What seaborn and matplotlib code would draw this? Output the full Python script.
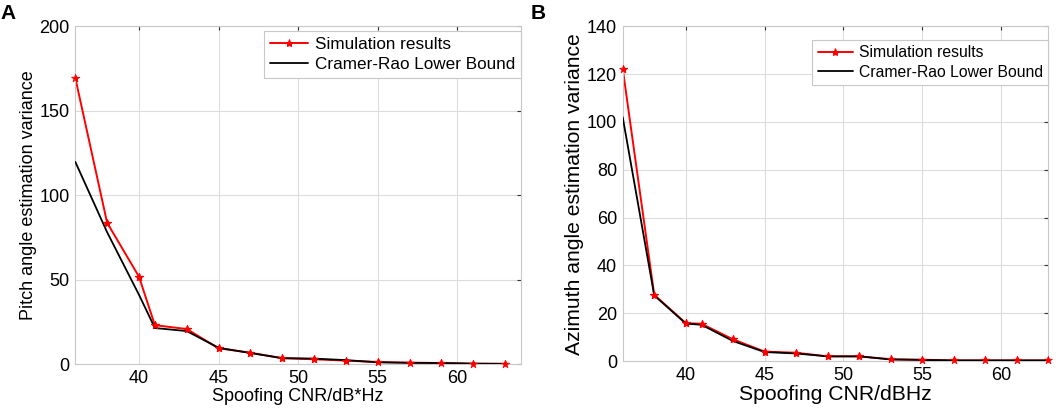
import matplotlib
matplotlib.use("Agg")
import matplotlib.pyplot as plt
import seaborn as sns
import pandas as pd

# Spoofing CNR values (dB-Hz)
cnr = [36, 38, 40, 41, 43, 45, 47, 49, 51, 53, 55, 57, 59, 61, 63]

# Panel A: pitch angle
pitch_sim = [169.4, 83.6, 51.7, 23.0, 20.7, 9.3, 6.7, 3.4, 2.8, 2.0, 1.2, 0.8, 0.6, 0.2, 0.1]
pitch_crlb = [119.7, 78.0, 41.0, 21.3, 19.5, 9.6, 6.5, 3.5, 3.2, 2.3, 1.0, 0.7, 0.6, 0.2, 0.1]

# Panel B: azimuth angle
azim_sim = [122.3, 27.7, 15.9, 15.6, 9.1, 4.0, 3.5, 2.0, 2.0, 0.8, 0.6, 0.3, 0.3, 0.3, 0.3]
azim_crlb = [102.0, 27.5, 15.7, 15.2, 8.4, 3.8, 3.2, 2.0, 2.0, 0.7, 0.5, 0.3, 0.3, 0.3, 0.3]

sns.set_style("whitegrid")
plt.rcParams['font.family'] = ['Liberation Sans', 'DejaVu Sans']
plt.rcParams['text.color'] = 'black'
plt.rcParams['axes.labelcolor'] = 'black'
plt.rcParams['xtick.color'] = 'black'
plt.rcParams['ytick.color'] = 'black'

fig = plt.figure(figsize=(10.59, 4.09), dpi=100)
ax_a = fig.add_axes([0.0711, 0.110, 0.4209, 0.826])
ax_b = fig.add_axes([0.588, 0.117, 0.402, 0.819])


def draw_panel(ax, sim, crlb, xlim, ylim, yticks, xlabel, ylabel, lab_size, tick_size, leg_size, leg_anchor):
    df = pd.DataFrame({"cnr": cnr, "sim": sim, "crlb": crlb})
    sns.lineplot(data=df, x="cnr", y="sim", ax=ax, color="#ff0000", lw=1.4,
                 marker="*", markersize=6, markeredgecolor="#ff0000",
                 label="Simulation results", zorder=2)
    sns.lineplot(data=df, x="cnr", y="crlb", ax=ax, color="black", lw=1.3,
                 label="Cramer-Rao Lower Bound", zorder=3)
    # markers back on top of the black curve
    sns.scatterplot(data=df, x="cnr", y="sim", ax=ax, color="#ff0000", marker="*",
                    s=36, edgecolor="#ff0000", linewidth=0.5, zorder=4, clip_on=False)
    ax.set_xlim(*xlim)
    ax.set_ylim(*ylim)
    ax.set_xticks([40, 45, 50, 55, 60])
    ax.set_yticks(yticks)
    ax.set_xlabel(xlabel, fontsize=lab_size, labelpad=1)
    ax.set_ylabel(ylabel, fontsize=lab_size, labelpad=2)
    ax.grid(True, color="#dcdcdc", lw=0.8)
    ax.tick_params(axis="both", which="both", direction="in", length=3, color="#333333",
                   labelcolor="black", labelsize=tick_size, top=True, right=True, pad=4)
    for s in ax.spines.values():
        s.set_color("#c8c8c8")
        s.set_linewidth(0.8)
    leg = ax.legend(loc="upper right", bbox_to_anchor=leg_anchor, fontsize=leg_size,
                    frameon=True, fancybox=False, framealpha=1, edgecolor="#c8c8c8",
                    handlelength=2.2, handletextpad=0.4, borderpad=0.35, labelspacing=0.3,
                    borderaxespad=0)
    leg.get_frame().set_linewidth(0.8)
    leg.set_zorder(5)
    for t in leg.get_texts():
        t.set_color("black")


draw_panel(ax_a, pitch_sim, pitch_crlb, (36, 64), (0, 200), [0, 50, 100, 150, 200],
           "Spoofing CNR/dB*Hz", "Pitch angle estimation variance", 13, 13, 12.3, (1.0, 0.985))
draw_panel(ax_b, azim_sim, azim_crlb, (36, 63), (0, 140), [0, 20, 40, 60, 80, 100, 120, 140],
           "Spoofing CNR/dBHz", "Azimuth angle estimation variance", 15.2, 13, 11.3, (1.0, 0.96))

fig.text(0.0, 0.99, "A", fontsize=15, fontweight="bold", va="top", ha="left")
fig.text(0.5015, 0.99, "B", fontsize=15, fontweight="bold", va="top", ha="left")

fig.savefig("out.png", dpi=100)
